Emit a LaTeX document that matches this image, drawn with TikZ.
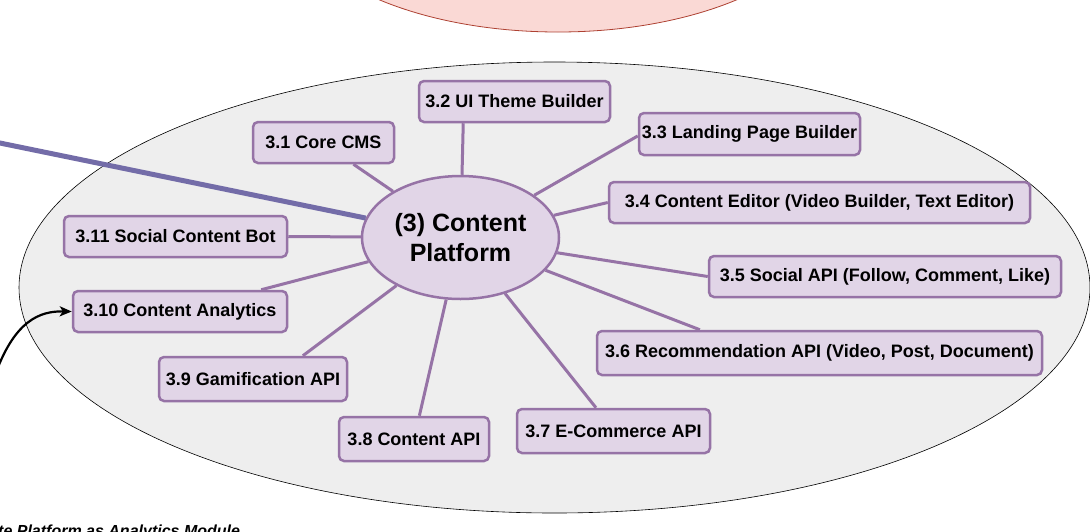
\documentclass[tikz,border=0pt]{standalone}
\usepackage{fontspec}
\setmainfont{Liberation Sans}
\usetikzlibrary{shapes.geometric,arrows.meta}
\definecolor{boxfill}{HTML}{E1D5E7}
\definecolor{boxline}{HTML}{9673A6}
\definecolor{feedline}{HTML}{736CA8}
\definecolor{zonefill}{HTML}{EEEEEE}
\definecolor{topfill}{HTML}{FAD9D5}
\definecolor{topline}{HTML}{AE4132}

\begin{document}
\begin{tikzpicture}[x=1pt,y=-1pt,
        module/.style={draw=boxline, fill=boxfill, line width=2.5pt, rounded corners=5pt,
            minimum height=41pt, inner sep=0pt, font=\fontsize{18}{21}\selectfont\bfseries},
        hub/.style={ellipse, draw=boxline, fill=boxfill, line width=2.5pt, minimum width=197pt,
            minimum height=123pt, inner sep=0pt, align=center, font=\fontsize{25}{30}\selectfont\bfseries},
        spoke/.style={draw=boxline, line width=3pt}]
            \useasboundingbox (0,0) rectangle (1090,531);
            \clip (0,0) rectangle (1090,531);
            % zones
            \draw[fill=topfill, draw=topline, line width=0.8pt] (558,-100) ellipse [x radius=273pt, y radius=132pt];
            \draw[fill=zonefill, draw=black, line width=0.6pt] (554.5,287.5) ellipse [x radius=535.5pt, y radius=225.5pt];
            % hub and modules
            \node[hub] (cp) at (460.5,237.5) {(3) Content\\Platform};
            \node[module, minimum width=141] (n31) at (323.5,142.5) {3.1 Core CMS};
            \node[module, minimum width=191] (n32) at (514.5,101.5) {3.2 UI Theme Builder};
            \node[module, minimum width=221, minimum height=42] (n33) at (749.5,134) {3.3 Landing Page Builder};
            \node[module, minimum width=421] (n34) at (819.5,202.5) {3.4 Content Editor (Video Builder, Text Editor)};
            \node[module, minimum width=352] (n35) at (885,276.5) {3.5 Social API (Follow, Comment, Like)};
            \node[module, minimum width=445, minimum height=44] (n36) at (819.5,353) {3.6 Recommendation API (Video, Post, Document)};
            \node[module, minimum width=193, minimum height=44] (n37) at (613.5,431) {3.7 E-Commerce API};
            \node[module, minimum width=150, minimum height=44] (n38) at (414,439) {3.8 Content API};
            \node[module, minimum width=188, minimum height=44] (n39) at (253,379) {3.9 Gamification API};
            \node[module, minimum width=214] (n310) at (180,311.5) {3.10 Content Analytics};
            \node[module, minimum width=223] (n311) at (175.5,236.5) {3.11 Social Content Bot};
            % spokes
            \draw[spoke] (n31.-36) -- (cp);
            \draw[spoke] (n32.203) -- (cp);
            \draw[spoke] (n33.181) -- (cp);
            \draw[spoke] (n34.west) -- (cp);
            \draw[spoke] (n35.west) -- (cp);
            \draw[spoke] (n36.169) -- (cp);
            \draw[spoke] (n37.127) -- (cp);
            \draw[spoke] (n38.77) -- (cp);
            \draw[spoke] (n39.25) -- (cp);
            \draw[spoke] (n310.15) -- (cp);
            \draw[spoke] (n311.east) -- (cp);
            % links from outside
            \coordinate (feed) at (-5,142);
            \draw[draw=feedline, line width=5pt] (feed) -- (cp);
            \coordinate (analytics) at (-6,378);
            \draw[-{Stealth[length=12pt,width=10pt,inset=3pt]}, line width=2.2pt] (analytics) .. controls (14,320) and (40,311) .. (n310.west);
            \node[anchor=base west, inner sep=0pt, font=\fontsize{16}{19}\selectfont\bfseries\itshape] (note) at (-2,536) {te Platform as Analytics Module};
        \end{tikzpicture}
\end{document}
